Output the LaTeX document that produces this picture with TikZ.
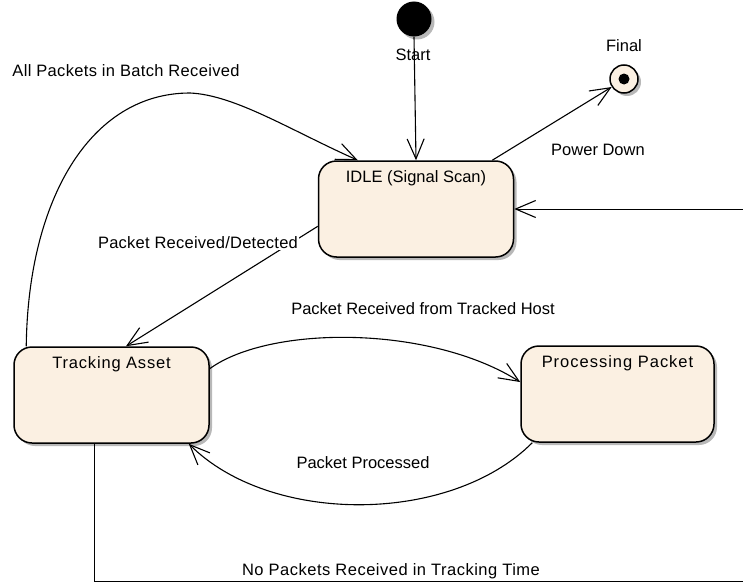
\documentclass[tikz,border=0pt]{standalone}
\usepackage{fontspec}
\setmainfont{Liberation Sans}
\usetikzlibrary{arrows.meta,shadows}
\definecolor{statefill}{RGB}{251,240,226}
% text with a little extra tracking
\newcommand\spacedtext[2]{{\addfontfeature{LetterSpace=#1}#2}}
\begin{document}
\begin{tikzpicture}[x=1pt,y=-1pt,
  font=\fontsize{16.5}{19}\selectfont,
  boxshadow/.style={drop shadow={shadow xshift=3pt,shadow yshift=-3pt,fill=black!28,opacity=1}},
  statebox/.style={draw, line width=1.5pt, fill=statefill, rounded corners=18pt,
    minimum width=195pt, minimum height=96pt, boxshadow},
  boxtitle/.style={inner sep=1pt, anchor=north, yshift=-9pt},
  trans/.style={line width=1.1pt, -{Straight Barb[length=20pt,width=17pt,line width=1.1pt]}},
  plainline/.style={line width=1pt}]
\useasboundingbox (0,0) rectangle (743,586);

% states
\node[statebox, label={[boxtitle]north:IDLE (Signal Scan)}] (idle) at (416,209) {};
\node[statebox, label={[boxtitle]north:\spacedtext{5}{Tracking Asset}}] (track) at (111.5,395) {};
\node[statebox, minimum width=193pt, label={[boxtitle]north:\spacedtext{6}{Processing Packet}}] (proc) at (617.5,394) {};

% pseudo states
\node[circle, fill=black, minimum size=35pt, inner sep=0pt, boxshadow] (start) at (414,19) {};
\node (startlbl) at (413,55) {Start};
\node[circle, draw, line width=1.5pt, fill=statefill, minimum size=28pt, inner sep=0pt, boxshadow] (final) at (624,79) {};
\node[circle, fill=black, minimum size=11pt, inner sep=0pt] (finaldot) at (final) {};
\node (finallbl) at (624,46) {Final};

% helper points for the long return path
\coordinate (offright) at (760,209);
\coordinate (bl) at (94,581);
\coordinate (br) at (760,581);

% transitions
\draw[trans] (start.south) -- (idle.north);
\draw[trans] ([xshift=-22pt]idle.north east) -- (final.213);
\draw[trans] (idle.190) -- ([xshift=14.5pt]track.north);
\draw[trans] (track.15) .. controls (270,325) and (430,325) .. (proc.173);
\draw[trans] ([xshift=12pt]proc.south west) .. controls (450,525) and (270,525) .. ([xshift=-21pt]track.south east);
\draw[trans] ([xshift=13pt]track.north west) .. controls (28,200) and (90,93) .. (190,93)
  .. controls (235,95) and (290,130) .. ([xshift=40pt]idle.north west);
\draw[plainline] (track.south -| bl) -- (bl) -- (br) -- (offright);
\draw[trans, line width=1pt] (offright) -- (idle.east);

% transition labels
\node (lblbatch) at (126,71) {\spacedtext{2}{All Packets in Batch Received}};
\node (lblpower) at (598,150) {Power Down};
\node[fill=white, inner sep=1pt] (lbldetect) at (198,243) {\spacedtext{1.5}{Packet Received/Detected}};
\node (lblhost) at (423,309) {Packet Received from Tracked Host};
\node (lblproc) at (363,463) {Packet Processed};
\node (lblnone) at (391,571) {\spacedtext{3}{No Packets Received in Tracking Time}};
\end{tikzpicture}
\end{document}
